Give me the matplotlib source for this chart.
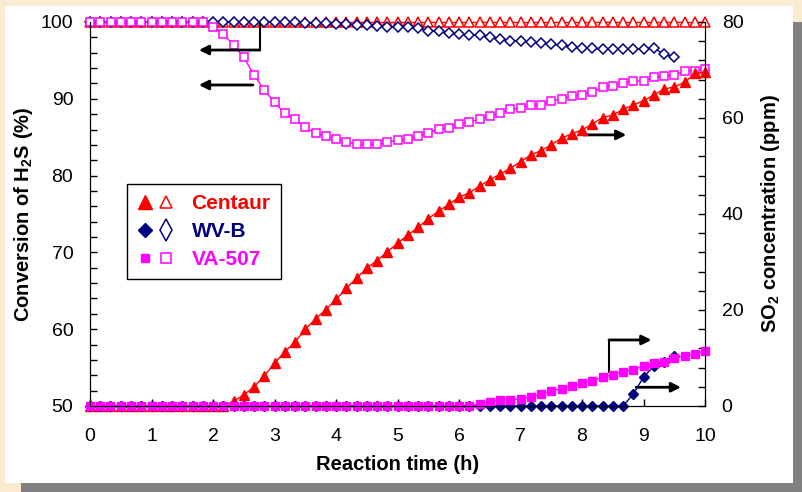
import matplotlib
matplotlib.use("Agg")
import matplotlib.pyplot as plt
from matplotlib.patches import Rectangle
from matplotlib.lines import Line2D
from matplotlib.legend_handler import HandlerTuple
import numpy as np

plt.rcParams['font.family'] = ['Liberation Sans', 'DejaVu Sans']
plt.rcParams['mathtext.fontset'] = 'custom'
plt.rcParams['mathtext.rm'] = 'Liberation Sans'
plt.rcParams['mathtext.bf'] = 'Liberation Sans:bold'

# time axis: one sample every 10 min
time_h = np.arange(61) / 6.0

# conversion of H2S (%), left axis (open markers)
centaur_conv = [100.0] * 61
wvb_conv = [100.0] * 21 + [
    99.9, 99.85, 99.85, 99.75, 99.75, 99.6, 99.55, 99.5, 99.4, 99.3,
    99.31, 99.18, 98.87, 98.87, 98.53, 98.40, 98.27, 98.27, 98.05, 97.75,
    97.57, 97.57, 97.36, 97.23, 97.10, 96.97, 96.78, 96.58, 96.58, 96.45,
    96.45, 96.45, 96.45, 96.45, 96.65, 95.79, 95.40]
va507_conv = [100.0] * 12 + [
    99.3, 98.44, 97.0, 95.4, 93.1, 91.15, 89.54, 88.11, 87.33, 86.29,
    85.5, 85.16, 84.73, 84.42, 84.08, 84.08, 84.08, 84.33, 84.64, 84.73,
    85.16, 85.59, 86.03, 86.16, 86.68, 87.02, 87.33, 87.76, 88.11, 88.63,
    88.76, 89.19, 89.19, 89.71, 90.01, 90.36, 90.49, 90.89, 91.50, 91.67,
    92.02, 92.32, 92.32, 92.80, 92.97, 93.10, 93.62, 93.62, 93.84]

# SO2 concentration (ppm), right axis (filled markers)
centaur_so2 = [0.0] * 14 + [
    1.0, 2.3, 4.0, 6.25, 8.9, 11.3, 13.3, 16.0, 18.1, 20.1,
    22.2, 24.5, 26.6, 28.7, 30.3, 32.1, 33.9, 35.6, 37.2, 39.0,
    40.6, 42.0, 43.5, 44.4, 45.8, 47.1, 48.3, 49.5, 50.9, 52.3,
    53.2, 54.4, 55.8, 56.7, 57.5, 58.75, 60.1, 60.6, 61.8, 62.7,
    63.6, 64.8, 66.0, 66.5, 67.4, 69.3, 69.6]
wvb_so2 = [0.0] * 53 + [2.5, 6.0, 8.3, 9.2, 10.4]
va507_so2 = [0.0] * 38 + [
    0.4, 0.8, 1.25, 1.25, 1.46, 1.94, 2.43, 3.1, 3.6, 4.2,
    4.7, 5.2, 6.0, 6.5, 7.15, 7.6, 8.3, 8.9, 9.2, 9.9,
    10.4, 10.8, 11.5]

names = ['Centaur', 'WV-B', 'VA-507']
colors = ['#FF0000', '#000080', '#FF00FF']
markers = ['^', 'D', 's']
msizes = [6.5, 5.4, 5.2]

fig = plt.figure(figsize=(8.02, 4.92), dpi=100)
fig.patch.set_facecolor('#FAEBD0')
# drop shadow + white panel
fig.patches.append(Rectangle((21 / 802, 0), 781 / 802, 470 / 492, transform=fig.transFigure,
                             facecolor='#808080', edgecolor='none', zorder=-10))
fig.patches.append(Rectangle((5 / 802, 9 / 492), 788 / 802, 477 / 492, transform=fig.transFigure,
                             facecolor='white', edgecolor='none', zorder=-9))

ax = fig.add_axes([90 / 802, 1 - 406 / 492, 615 / 802, 384 / 492])
ax.patch.set_alpha(0)
ax2 = ax.twinx()

conv = [centaur_conv, wvb_conv, va507_conv]
so2 = [centaur_so2, wvb_so2, va507_so2]
for name, c, m, ms, yc, ys in zip(names, colors, markers, msizes, conv, so2):
    ax.plot(time_h[:len(yc)], yc, color=c, lw=1, marker=m, ms=ms,
            mfc='white', mec=c, mew=1.1, clip_on=False)
    ax2.plot(time_h[:len(ys)], ys, color=c, lw=1, marker=m, ms=ms,
             mfc=c, mec=c, clip_on=False)

# legend proxies: markers only (a bit bigger, like the glyphs in the original)
leg_styles = [(('^', 9.5), ('^', 8.5)), (('D', 7.5), ('d', 11)), (('s', 6), ('s', 6.5))]
leg_handles = []
for c, ((mf, sf), (mo, so)) in zip(colors, leg_styles):
    hf = Line2D([], [], ls='none', marker=mf, ms=sf, mfc=c, mec=c)
    ho = Line2D([], [], ls='none', marker=mo, ms=so, mfc='white', mec=c, mew=1.1)
    leg_handles.append((hf, ho))

ax.set_xlim(0, 10)
ax.set_ylim(50, 100)
ax2.set_ylim(0, 80)
ax.set_xticks(range(11))
ax.set_yticks(range(50, 101, 10))
ax.set_yticks(range(50, 101, 2), minor=True)
ax2.set_yticks(range(0, 81, 20))
ax2.set_yticks(range(0, 81, 4), minor=True)

for a in (ax, ax2):
    a.spines['top'].set_visible(False)
    a.tick_params(which='both', direction='in', length=5, width=1, labelsize=14, pad=12)
ax.tick_params(axis='x', pad=16)

ax.set_xlabel('Reaction time (h)', fontsize=14.5, fontweight='bold', labelpad=7)
ax.set_ylabel('Conversion of H$_\\mathbf{2}$S (%)', fontsize=14.5, fontweight='bold', labelpad=4)
ax2.set_ylabel('SO$_\\mathbf{2}$ concentration (ppm)', fontsize=14.5, fontweight='bold', labelpad=11)

# arrows pointing to the axis each curve belongs to
arrow = dict(arrowstyle='-|>', lw=2, color='black', mutation_scale=14, shrinkA=0, shrinkB=0)
ax.plot([2.76, 2.76], [100, 96.35], color='black', lw=1.5)
ax.annotate('', xy=(1.77, 96.35), xytext=(2.76, 96.35), arrowprops=arrow)
ax.annotate('', xy=(1.77, 91.8), xytext=(2.65, 91.8), arrowprops=arrow)
ax.annotate('', xy=(8.72, 85.3), xytext=(8.02, 85.3), arrowprops=arrow)
ax.plot([8.44, 8.44], [54.47, 58.6], color='black', lw=1.5)
ax.annotate('', xy=(9.13, 58.6), xytext=(8.44, 58.6), arrowprops=arrow)
ax.annotate('', xy=(9.61, 52.44), xytext=(8.88, 52.44), arrowprops=arrow)

leg = ax2.legend(leg_handles, names,
                 handler_map={tuple: HandlerTuple(ndivide=None, pad=0.3)},
                 loc='upper left', bbox_to_anchor=(37 / 615, 222 / 384),
                 borderaxespad=0, fancybox=False, framealpha=1, edgecolor='black',
                 prop={'weight': 'bold', 'size': 15}, handlelength=1.7,
                 handletextpad=0.9, labelspacing=0.42, borderpad=0.5)
leg.get_frame().set_linewidth(1)
for txt, c in zip(leg.get_texts(), colors):
    txt.set_color(c)

fig.savefig('out.png', dpi=100, facecolor=fig.get_facecolor())
